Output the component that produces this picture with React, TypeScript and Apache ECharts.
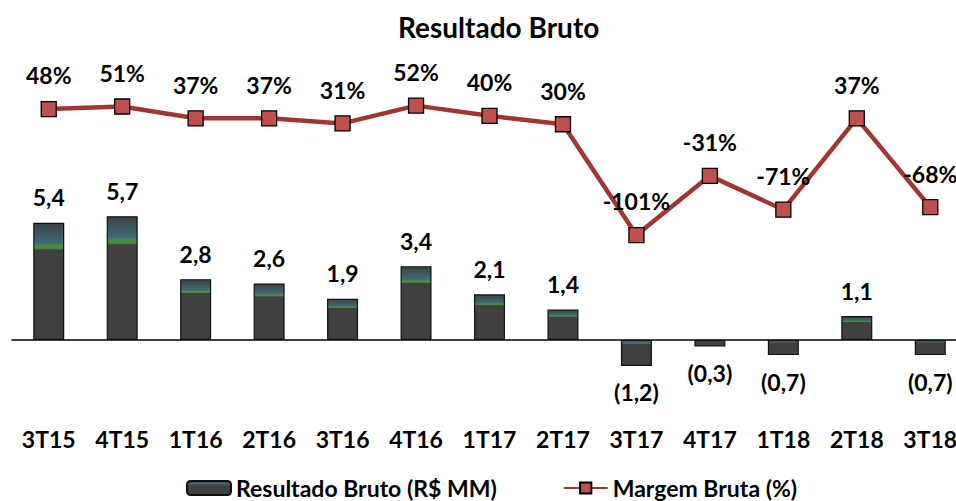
import React, { useEffect, useRef } from "react";
import * as echarts from "echarts";

const categories = ["3T15", "4T15", "1T16", "2T16", "3T16", "4T16", "1T17", "2T17", "3T17", "4T17", "1T18", "2T18", "3T18"];
const resultadoBruto = [5.4, 5.7, 2.8, 2.6, 1.9, 3.4, 2.1, 1.4, -1.2, -0.3, -0.7, 1.1, -0.7];
const margemBruta = [48, 51, 37, 37, 31, 52, 40, 30, -101, -31, -71, 37, -68];

const FONT = "Lato, 'Open Sans', sans-serif";

const posGrad = new echarts.graphic.LinearGradient(0, 0, 0, 1, [
  { offset: 0, color: "#3c4244" },
  { offset: 0.17, color: "#3f6a78" },
  { offset: 0.19, color: "#4b8a3e" },
  { offset: 0.215, color: "#4b8a3e" },
  { offset: 0.23, color: "#404040" },
  { offset: 1, color: "#404040" },
]);
const negGrad = new echarts.graphic.LinearGradient(0, 0, 0, 1, [
  { offset: 0, color: "#465a60" },
  { offset: 0.12, color: "#3f6a78" },
  { offset: 0.16, color: "#404040" },
  { offset: 1, color: "#404040" },
]);
const legendGrad = new echarts.graphic.LinearGradient(0, 0, 0, 1, [
  { offset: 0, color: "#404040" },
  { offset: 0.2, color: "#3f6a78" },
  { offset: 0.35, color: "#404040" },
  { offset: 1, color: "#404040" },
]);

const fmtNum = (v: number) => {
  const s = Math.abs(v).toFixed(1).replace(".", ",");
  return v < 0 ? `(${s})` : s;
};

export default function App() {
  const ref = useRef<HTMLDivElement>(null);
  useEffect(() => {
    if (!ref.current) return;
    const chart = echarts.init(ref.current, null, { renderer: "svg" });
    const labelStyle = { fontFamily: FONT, fontWeight: "bold" as const, fontSize: 23, color: "#000" };
    chart.setOption({
      animation: false,
      backgroundColor: "#fff",
      title: {
        text: "Resultado Bruto",
        left: 393,
        top: 8,
        textStyle: { fontFamily: FONT, fontWeight: "bold", fontSize: 28, color: "#000" },
      },
      legend: {
        top: 470,
        left: 181,
        itemWidth: 44,
        itemHeight: 14,
        itemGap: 66,
        textStyle: { fontFamily: FONT, fontWeight: "bold", fontSize: 23, lineHeight: 26, color: "#000" },
        data: [
          { name: "Resultado Bruto (R$ MM)", itemStyle: { color: legendGrad } },
          { name: "Margem Bruta (%)" },
        ],
      },
      grid: { left: 12, top: 40, width: 955, height: 380, containLabel: false, outerBoundsMode: "none" },
      xAxis: {
        type: "category",
        data: categories,
        axisLine: { onZero: true, onZeroAxisIndex: 0, lineStyle: { color: "#000", width: 1.5 } },
        axisTick: { show: false },
        axisLabel: { margin: 7, fontFamily: FONT, fontWeight: "bold", fontSize: 23, color: "#000" },
      },
      yAxis: [
        { type: "value", min: -3.69, max: 13.82, show: false, splitLine: { show: false } },
        { type: "value", min: -319.6, max: 129.6, show: false, splitLine: { show: false } },
      ],
      series: [
        {
          name: "Resultado Bruto (R$ MM)",
          type: "bar",
          yAxisIndex: 0,
          barWidth: 31,
          itemStyle: { color: posGrad, borderColor: "#111", borderWidth: 1.2 },
          data: resultadoBruto.map((v) => ({
            value: v,
            itemStyle: { color: v < 0 ? negGrad : posGrad },
            label: { position: v < 0 ? "bottom" : "top", distance: v < 0 ? 15 : 14 },
          })),
          label: { show: true, formatter: (p: any) => fmtNum(p.value), ...labelStyle },
          z: 2,
        },
        {
          name: "Margem Bruta (%)",
          type: "line",
          yAxisIndex: 1,
          symbol: "rect",
          symbolSize: 15,
          lineStyle: { color: "#a03633", width: 4.5 },
          itemStyle: { color: "#c0504d", borderColor: "#000", borderWidth: 1.3 },
          label: { show: true, position: "top", distance: 14, formatter: (p: any) => `${p.value}%`, ...labelStyle },
          data: margemBruta,
          z: 3,
        },
      ],
    });
    return () => chart.dispose();
  }, []);
  return <div ref={ref} style={{ position: "absolute", left: 0, top: 0, width: 956, height: 501 }} />;
}
